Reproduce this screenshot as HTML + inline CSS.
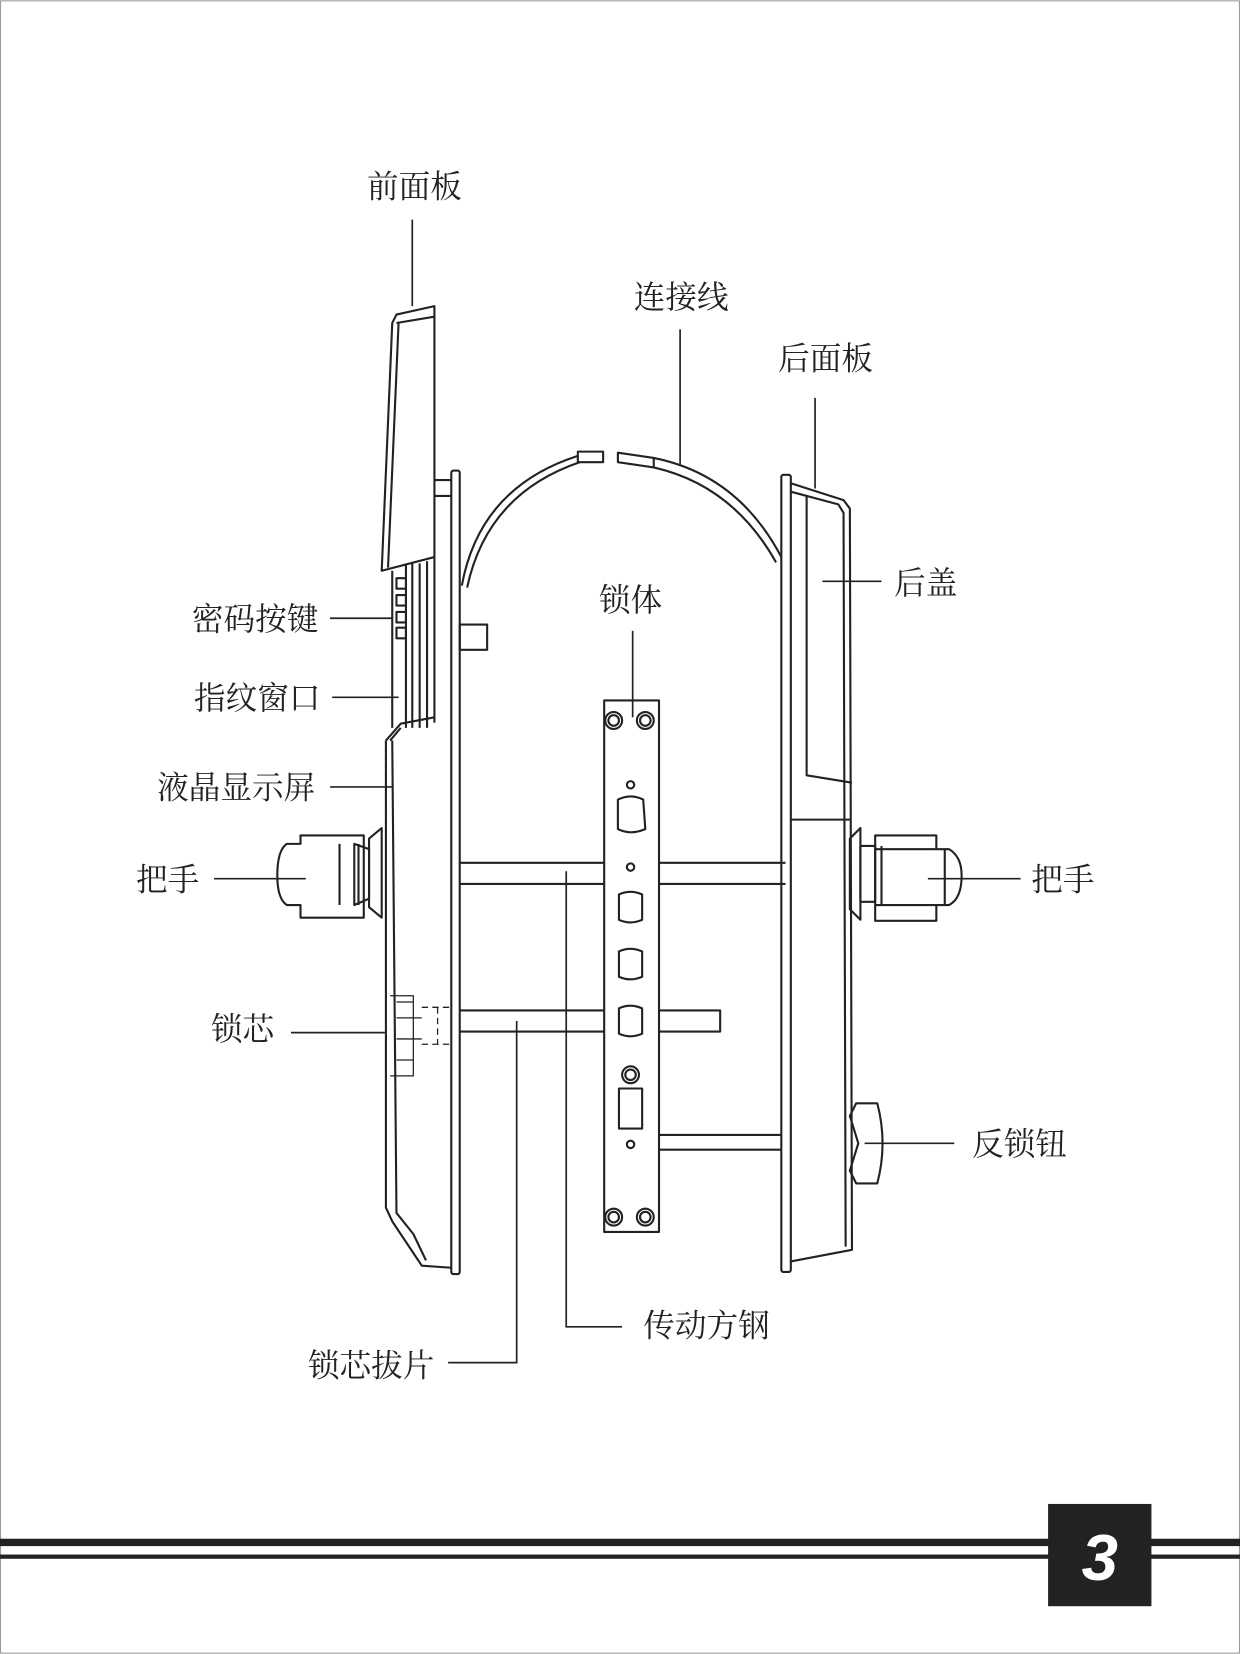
<!DOCTYPE html>
<html><head><meta charset="utf-8"><style>
html,body{margin:0;padding:0;background:#fff}
svg{display:block}
text{font-family:"Liberation Serif","Noto Serif CJK SC","Noto Sans CJK SC",serif;font-size:30px;fill:#222}
</style></head><body>
<svg width="1240" height="1654" viewBox="0 0 1176 1568" xmlns="http://www.w3.org/2000/svg">
<rect x="0.5" y="0.5" width="1175" height="1567" fill="none" stroke="#999" stroke-width="1"/>
<g fill="none" stroke="#222" stroke-width="2" stroke-linejoin="round">
<!-- front top panel -->
<path d="M376,298 L412,290 L412,528 L362,541 L372,306 Z"/>
<path d="M376,306 L412,300 M378,306 L368,538"/>
<!-- key area -->
<path d="M372,541 L372,690 M385,536 L385,690 M398,534 L398,690 M405,532 L405,690 M412,528 L412,685 M391,534 L391,690"/>
<rect x="376" y="548" width="9" height="10"/><rect x="376" y="564" width="9" height="10"/><rect x="376" y="580" width="9" height="10"/><rect x="376" y="595" width="9" height="10"/>
<path d="M366,702 L380,686 L412,680 M370,702 L380,690"/>
<!-- plate -->
<rect x="428" y="446" width="8" height="762" rx="2"/>
<path d="M412,455 L428,455 M412,470 L428,470"/>
<rect x="436" y="592" width="26" height="24"/>
<!-- lower body -->
<path d="M366,702 L366,1145 L372,1158 L400,1200 L428,1202"/>
<path d="M372,702 L376,1150 L392,1170 L404,1195"/>
<!-- left handle -->
<path d="M350,795 L362,785 L362,870 L350,860 Z"/>
<path d="M336,800 L350,805 L350,852 L336,858 Z"/>
<path d="M285,792 L345,792 L345,870 L285,870 L285,858 L272,858 Q263,852 263,830 Q263,806 272,800 L285,800 Z"/>
<path d="M322,800 L322,858 M340,800 L340,858"/>
<!-- lock core -->
<path d="M370,944 L392,944 L392,1020 L370,1020 M376,950 L392,950 M376,965 L400,965 M376,985 L400,985 M376,1005 L392,1005" stroke-width="1.2"/>
<path d="M400,955 L428,955 M400,990 L428,990 M415,955 L415,990" stroke-dasharray="6,4" stroke-width="1.2"/>
<!-- spindle bars -->
<path d="M436,818 L573,818 M436,838 L573,838 M625,818 L745,818 M625,838 L745,838"/>
<path d="M436,958 L573,958 M436,978 L573,978 M625,958 L683,958 L683,978 L625,978"/>
<path d="M625,1076 L741,1076 M625,1090 L741,1090"/>
<!-- lock body -->
<rect x="573" y="664" width="52" height="504"/>
<circle cx="582" cy="683" r="8"/><circle cx="582" cy="683" r="5"/>
<circle cx="612" cy="683" r="8"/><circle cx="612" cy="683" r="5"/>
<circle cx="582" cy="1154" r="8"/><circle cx="582" cy="1154" r="5"/>
<circle cx="612" cy="1154" r="8"/><circle cx="612" cy="1154" r="5"/>
<circle cx="598" cy="744" r="3.5"/><circle cx="598" cy="822" r="3.5"/><circle cx="598" cy="1085" r="3.5"/>
<circle cx="598" cy="1019" r="8"/><circle cx="598" cy="1019" r="5"/>
<path d="M586,758 Q598,752 610,758 L612,786 Q598,792 586,786 Z"/>
<path d="M587,848 Q598,843 609,848 L609,872 Q598,877 587,872 Z"/>
<path d="M587,902 Q598,897 609,902 L609,926 Q598,931 587,926 Z"/>
<path d="M587,956 Q598,951 609,956 L609,980 Q598,985 587,980 Z"/>
<rect x="587" y="1032" width="22" height="38"/>
<!-- cable -->
<path d="M438,555 Q455,462 548,432 M443,557 Q462,468 550,438"/>
<rect x="548" y="428" width="24" height="10"/>
<path d="M586,429 L620,434 L620,443 L586,438 Z"/>
<path d="M620,434 Q700,450 741,528 M620,443 Q695,460 736,533"/>
<!-- right plate -->
<rect x="741" y="450" width="9" height="756" rx="2"/>
<path d="M750,458 L800,474 L806,482 L808,1185 L750,1196"/>
<path d="M750,466 L795,478 L800,486 L802,1182"/>
<path d="M765,470 L765,735 L808,742"/>
<path d="M750,777 L806,777"/>
<!-- right handle -->
<path d="M806,795 L816,785 L816,872 L806,862 Z"/>
<path d="M816,802 L830,802 L830,855 L816,855 Z"/>
<path d="M830,792 L888,792 L888,805 L900,805 Q912,812 912,830 Q912,852 900,858 L888,858 L888,873 L830,873 Z"/>
<path d="M836,802 L836,858 M896,805 L896,858 M830,805 L888,805 M830,858 L888,858"/>
<!-- thumbturn -->
<path d="M812,1046 L832,1046 Q842,1084 832,1122 L812,1122 L806,1110 L814,1084 L806,1058 Z"/>
</g>
<!-- leader lines -->
<g stroke="#222" stroke-width="1.6" fill="none">
<path d="M391,208 L391,290"/>
<path d="M645,312 L645,440"/>
<path d="M773,377 L773,463"/>
<path d="M780,551 L836,551"/>
<path d="M313,586 L372,586"/>
<path d="M315,661 L378,661"/>
<path d="M313,746 L372,746"/>
<path d="M203,833 L290,833"/>
<path d="M276,979 L365,979"/>
<path d="M600,598 L600,680"/>
<path d="M880,833 L968,833"/>
<path d="M820,1084 L905,1084"/>
<path d="M537,826 L537,1258 L590,1258"/>
<path d="M490,968 L490,1292 L425,1292"/>
</g>
<g text-anchor="middle">
<text x="393" y="187">前面板</text>
<text x="646" y="292">连接线</text>
<text x="783" y="350">后面板</text>
<text x="878" y="563">后盖</text>
<text x="242" y="597">密码按键</text>
<text x="244" y="672">指纹窗口</text>
<text x="224" y="757">液晶显示屏</text>
<text x="159" y="844">把手</text>
<text x="230" y="986">锁芯</text>
<text x="598" y="579">锁体</text>
<text x="1008" y="844">把手</text>
<text x="967" y="1095">反锁钮</text>
<text x="670" y="1267">传动方钢</text>
<text x="352" y="1305">锁芯拔片</text>
</g>
<!-- footer -->
<rect x="0" y="1459" width="1176" height="7" fill="#222"/>
<rect x="0" y="1474" width="1176" height="4" fill="#222"/>
<rect x="994" y="1426" width="98" height="97" fill="#222"/>
<text x="1043" y="1498" text-anchor="middle" style="font-family:'Liberation Sans',sans-serif;font-weight:bold;font-style:italic;font-size:62px;fill:#fff">3</text>
</svg>
</body></html>
